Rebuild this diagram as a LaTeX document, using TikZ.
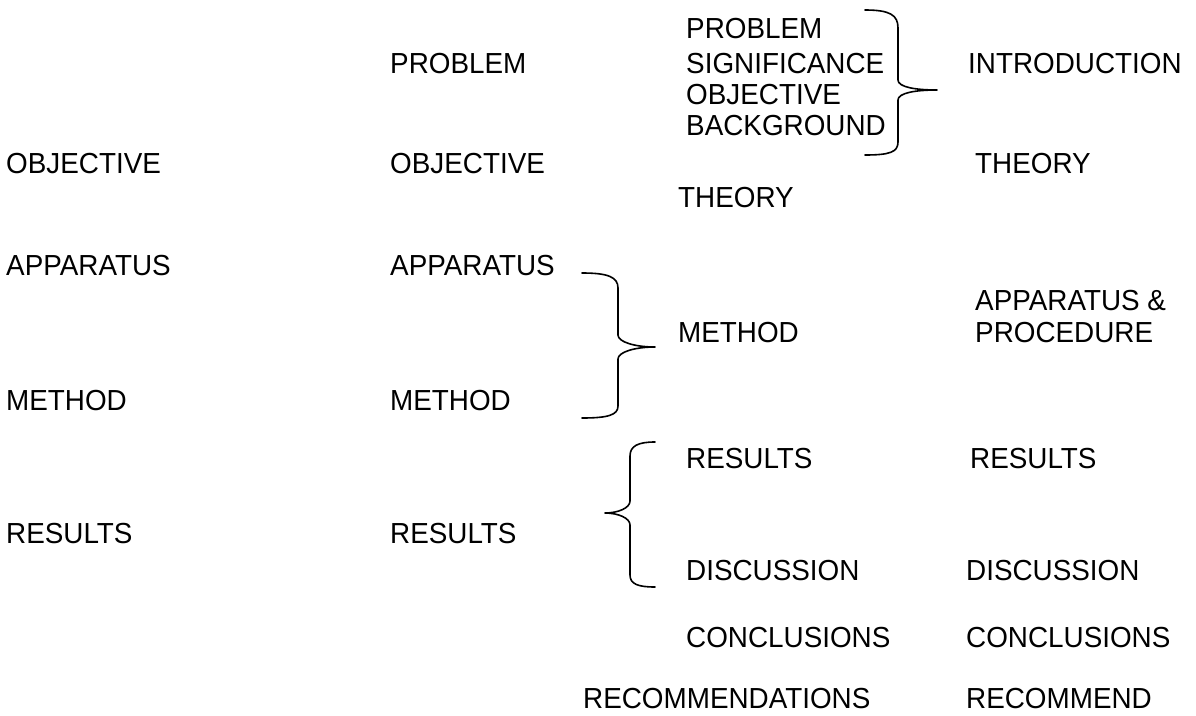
\documentclass[tikz,border=0pt]{standalone}
\usepackage{fontspec}
\setmainfont{Liberation Sans}[FakeStretch=0.96]
\usepackage{tikz}

\begin{document}
\begin{tikzpicture}[x=1pt, y=-1pt,
    lbl/.style={anchor=base west, inner sep=0pt, font=\fontsize{29}{32}\selectfont},
    curly/.style={line width=1.6pt, line cap=round, line join=round}]
      \useasboundingbox (0,0) rectangle (1196,715);
      % first outline
      \node[lbl] (aobj)  at (6,173)   {OBJECTIVE};
      \node[lbl] (aapp)  at (6,275)   {APPARATUS};
      \node[lbl] (ameth) at (6,410)   {METHOD};
      \node[lbl] (ares)  at (6,543)   {RESULTS};
      % second outline
      \node[lbl] (bprob) at (390,73)  {PROBLEM};
      \node[lbl] (bobj)  at (390,173) {OBJECTIVE};
      \node[lbl] (bapp)  at (390,275) {APPARATUS};
      \node[lbl] (bmeth) at (390,410) {METHOD};
      \node[lbl] (bres)  at (390,543) {RESULTS};
      % third outline
      \node[lbl] (cprob) at (686,38)  {PROBLEM};
      \node[lbl] (csig)  at (686,73)  {SIGNIFICANCE};
      \node[lbl] (cobj)  at (686,104) {OBJECTIVE};
      \node[lbl] (cback) at (686,135) {BACKGROUND};
      \node[lbl] (ctheo) at (678,207) {THEORY};
      \node[lbl] (cmeth) at (678,342) {METHOD};
      \node[lbl] (cres)  at (686,468) {RESULTS};
      \node[lbl] (cdisc) at (686,580) {DISCUSSION};
      \node[lbl] (cconc) at (686,647) {CONCLUSIONS};
      \node[lbl] (crec)  at (583,708) {RECOMMENDATIONS};
      % report sections
      \node[lbl] (dintro) at (968,73)  {INTRODUCTION};
      \node[lbl] (dtheo)  at (975,173) {THEORY};
      \node[lbl] (dapp)   at (975,310) {APPARATUS \&};
      \node[lbl] (dproc)  at (975,342) {PROCEDURE};
      \node[lbl] (dres)   at (970,468) {RESULTS};
      \node[lbl] (ddisc)  at (966,580) {DISCUSSION};
      \node[lbl] (dconc)  at (966,647) {CONCLUSIONS};
      \node[lbl] (drec)   at (966,708) {RECOMMEND};
      % braces
      \draw[curly] (865,10) .. controls (890,10) and (898,15) .. (898,28) -- (898,80)
        .. controls (898,87) and (915,90) .. (937,90)
        .. controls (915,90) and (898,93) .. (898,100) -- (898,142)
        .. controls (898,152) and (890,155) .. (865,155);
      \draw[curly] (582,273) .. controls (608,273) and (618,277) .. (618,288) -- (618,335)
        .. controls (618,342) and (635,347) .. (655,347)
        .. controls (635,347) and (618,352) .. (618,359) -- (618,406)
        .. controls (618,415) and (608,418) .. (582,418);
      \draw[curly] (655,442) .. controls (638,442) and (630,446) .. (630,456) -- (630,501)
        .. controls (630,508) and (618,513) .. (605,513)
        .. controls (618,513) and (630,518) .. (630,525) -- (630,575)
        .. controls (630,584) and (638,587) .. (655,587);
\end{tikzpicture}
\end{document}
